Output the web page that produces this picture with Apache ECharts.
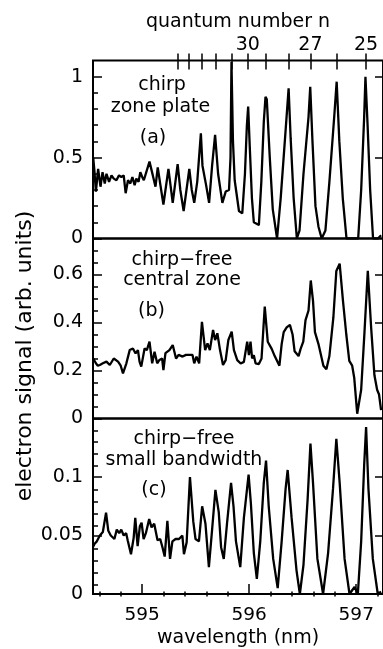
<!DOCTYPE html>
<html><head><meta charset="utf-8">
<script src="https://cdn.jsdelivr.net/npm/echarts@6/dist/echarts.min.js"></script>
<style>html,body{margin:0;padding:0;background:#fff}#c{width:383px;height:649px}</style>
</head><body><div id="c"></div>
<script>
// ---- data ----
const wavelengthA = [594.542,594.553,594.567,594.588,594.610,594.629,594.650,594.666,594.690,594.713,594.734,594.759,594.783,594.805,594.827,594.845,594.867,594.889,594.908,594.929,594.945,594.966,594.982,595.000,595.015,595.038,595.068,595.099,595.124,595.145,595.170,595.198,595.245,595.285,595.331,595.356,595.387,595.440,595.463,595.486,595.514,595.548,595.563,595.579,595.597,595.625,595.653,595.681,595.709,595.749,595.780,595.811,595.825,595.834,595.848,595.864,595.904,595.935,595.960,595.978,595.990,596.006,596.025,596.043,596.090,596.113,596.136,596.152,596.164,596.192,596.220,596.260,596.294,596.340,596.368,596.387,596.415,596.445,596.470,596.507,596.554,596.570,596.591,596.619,596.647,596.677,596.712,596.749,596.795,596.817,596.842,596.874,596.909,596.962,597.018,597.046,597.074,597.086,597.106,597.130,597.157,597.204,597.232];
const signalA = [0.50,0.42,0.29,0.43,0.32,0.41,0.34,0.40,0.35,0.39,0.37,0.36,0.39,0.38,0.39,0.28,0.36,0.34,0.38,0.33,0.37,0.35,0.41,0.38,0.36,0.41,0.475,0.39,0.32,0.44,0.33,0.21,0.43,0.22,0.46,0.30,0.17,0.43,0.30,0.22,0.35,0.65,0.45,0.44,0.33,0.22,0.45,0.64,0.40,0.22,0.29,0.30,0.50,1.09,0.60,0.36,0.17,0.155,0.40,0.70,0.815,0.55,0.25,0.10,0.083,0.35,0.72,0.876,0.86,0.50,0.18,0.0,0.25,0.67,0.928,0.62,0.25,0.0,0.05,0.40,0.75,0.938,0.60,0.20,0.073,0.0,0.05,0.35,0.76,0.969,0.60,0.25,0.0,0.0,0.0,0.30,0.75,1.0,0.70,0.30,0.0,0.0,0.02];

const wavelengthB = [594.542,594.567,594.585,594.604,594.632,594.666,594.697,594.734,594.774,594.799,594.820,594.852,594.883,594.913,594.938,594.960,594.975,594.991,595.022,595.043,595.068,595.093,595.115,595.140,595.161,595.186,595.198,595.217,595.254,595.285,595.316,595.340,595.377,595.409,595.440,595.470,595.486,595.507,595.532,595.558,595.588,595.610,595.632,595.662,595.681,595.702,595.727,595.755,595.780,595.805,595.836,595.857,595.888,595.920,595.950,595.981,595.997,596.012,596.027,596.043,596.059,596.090,596.115,596.145,596.173,596.210,596.238,596.282,596.303,596.322,596.350,596.380,596.405,596.424,596.461,596.480,596.505,596.526,596.554,596.575,596.596,596.614,596.647,596.693,596.721,596.749,596.786,596.814,596.845,596.876,596.907,596.935,596.962,596.981,597.009,597.046,597.077,597.108,597.139,597.170,597.195,597.213,597.232];
const signalB = [0.25,0.23,0.22,0.223,0.23,0.237,0.223,0.25,0.237,0.22,0.188,0.23,0.285,0.292,0.271,0.285,0.237,0.216,0.292,0.285,0.32,0.23,0.278,0.23,0.244,0.25,0.202,0.272,0.285,0.306,0.25,0.265,0.258,0.265,0.265,0.265,0.23,0.258,0.23,0.403,0.285,0.313,0.285,0.369,0.327,0.355,0.285,0.223,0.243,0.327,0.362,0.285,0.243,0.229,0.236,0.32,0.264,0.32,0.25,0.264,0.23,0.227,0.25,0.466,0.32,0.29,0.26,0.22,0.31,0.36,0.38,0.39,0.35,0.28,0.26,0.29,0.32,0.41,0.45,0.575,0.49,0.36,0.31,0.22,0.205,0.26,0.42,0.615,0.645,0.49,0.35,0.24,0.22,0.17,0.02,0.12,0.36,0.615,0.38,0.18,0.12,0.10,0.035];

const wavelengthC = [594.539,594.555,594.576,594.604,594.632,594.662,594.683,594.706,594.740,594.762,594.785,594.804,594.827,594.850,594.864,594.895,594.920,594.935,594.957,594.978,594.994,595.013,595.034,595.065,595.087,595.112,595.143,595.168,595.189,595.210,595.235,595.260,595.282,595.312,595.344,595.375,595.390,595.415,595.446,595.477,595.498,595.530,595.560,595.591,595.623,595.653,595.684,595.715,595.737,595.762,595.792,595.830,595.853,595.876,595.916,595.950,595.994,596.015,596.043,596.071,596.103,596.136,596.157,596.182,596.224,596.266,596.303,596.340,596.359,596.396,596.442,596.473,596.507,596.545,596.572,596.596,596.637,596.690,596.737,596.783,596.814,596.845,596.891,596.937,596.984,597.015,597.046,597.074,597.092,597.114,597.155,597.201,597.232];
const signalC = [0.040,0.043,0.045,0.050,0.053,0.0695,0.054,0.050,0.047,0.055,0.052,0.055,0.050,0.052,0.046,0.034,0.048,0.065,0.041,0.058,0.061,0.047,0.052,0.064,0.057,0.060,0.046,0.047,0.040,0.032,0.0625,0.030,0.045,0.047,0.047,0.050,0.034,0.044,0.100,0.062,0.047,0.045,0.075,0.060,0.023,0.055,0.089,0.070,0.040,0.030,0.060,0.095,0.075,0.045,0.023,0.065,0.102,0.078,0.035,0.013,0.045,0.095,0.114,0.075,0.030,0.005,0.045,0.090,0.106,0.065,0.020,0.0,0.025,0.080,0.1285,0.095,0.030,0.0,0.035,0.09,0.1327,0.095,0.030,0.0,0.006,0.0,0.045,0.110,0.1426,0.090,0.030,0.0,0.002];

// top axis: Rydberg quantum numbers and their wavelength positions
const quantumN = [35,34,33,32,31,30,29,28,27,26,25];
const quantumWavelength = [595.328,595.437,595.560,595.684,595.839,595.987,596.157,596.365,596.572,596.820,597.092];
const quantumLabeled = [30,27,25];

// bottom axis ticks
const xMajorTicks = [595,596,597];
const xMinorTicks = [594.6,594.8,595.2,595.4,595.6,595.8,596.2,596.4,596.6,596.8,597.2];

// y ticks per panel
const yMaxA = 1.1, yMaxB = 0.75, yMaxC = 0.15;
const yMajorA = [0,0.5,1];
const yMinorA = [0.1,0.2,0.3,0.4,0.6,0.7,0.8,0.9];
const yMajorB = [0,0.2,0.4,0.6];
const yMinorB = [0.05,0.1,0.15,0.25,0.3,0.35,0.45,0.5,0.55,0.65,0.7];
const yMajorC = [0,0.05,0.1];
const yMinorC = [0.01,0.02,0.03,0.04,0.06,0.07,0.08,0.09,0.11,0.12,0.13,0.14];

const panelLabels = [
  ['chirp','zone plate','(a)'],
  ['chirp\u2212free','central zone','(b)'],
  ['chirp\u2212free','small bandwidth','(c)']
];

// ---- chart ----
const FONT = 'DejaVu Sans';
const X_MIN = 594.54, X_MAX = 597.25;
const chart = echarts.init(document.getElementById('c'), null, {renderer:'canvas'});

const rects = [
  {left:93, top:60.5, width:292, height:178},
  {left:93, top:238.5, width:292, height:180},
  {left:93, top:418.5, width:292, height:178}
];
// grids 0-2: visible panels; grids 3-5: invisible twins that carry the extra tick sets
const grids = rects.map(r => Object.assign({show:true, borderColor:'#000', borderWidth:2, backgroundColor:'transparent'}, r))
  .concat(rects.map(r => Object.assign({show:false}, r)));

const TICK = {color:'#000', width:1.5};
const NOLINE = {show:false, onZero:false};
const hiddenX = gi => ({type:'value', gridIndex:gi, min:X_MIN, max:X_MAX, show:false, axisLine:NOLINE});

const xAxes = [
  hiddenX(0),                                   // 0 panel a
  hiddenX(1),                                   // 1 panel b
  {type:'value', gridIndex:2, min:X_MIN, max:X_MAX, position:'bottom',   // 2 panel c bottom
   axisLine:NOLINE, splitLine:{show:false},
   axisTick:{inside:true, length:10, customValues:xMajorTicks, lineStyle:TICK},
   axisLabel:{customValues:xMajorTicks, margin:12, color:'#000', fontFamily:FONT, fontSize:18.5},
   name:'wavelength (nm)', nameLocation:'middle', nameGap:35,
   nameTextStyle:{color:'#000', fontFamily:FONT, fontSize:19}},
  {type:'value', gridIndex:0, min:X_MIN, max:X_MAX, position:'top',      // 3 quantum outer ticks + labels
   axisLine:NOLINE, splitLine:{show:false},
   axisTick:{inside:false, length:7, customValues:quantumWavelength, lineStyle:TICK},
   axisLabel:{customValues:quantumLabeled.map(n => quantumWavelength[quantumN.indexOf(n)]), margin:6,
     color:'#000', fontFamily:FONT, fontSize:19,
     formatter: v => { const i = quantumWavelength.findIndex(w => Math.abs(w - v) < 1e-6); return i >= 0 ? String(quantumN[i]) : ''; }},
   name:'quantum number n', nameLocation:'middle', nameGap:29,
   nameTextStyle:{color:'#000', fontFamily:FONT, fontSize:19}},
  {type:'value', gridIndex:3, min:X_MIN, max:X_MAX, position:'top',      // 4 quantum inner ticks
   axisLine:NOLINE, splitLine:{show:false}, axisLabel:{show:false},
   axisTick:{inside:true, length:9, customValues:quantumWavelength, lineStyle:TICK}},
  hiddenX(4),                                   // 5 placeholder
  {type:'value', gridIndex:5, min:X_MIN, max:X_MAX, position:'bottom',   // 6 minor wavelength ticks
   axisLine:NOLINE, splitLine:{show:false}, axisLabel:{show:false},
   axisTick:{inside:true, length:5, customValues:xMinorTicks, lineStyle:TICK}}
];

function yAxesFor(gi, twin, max, majors, minors) {
  return [
    {type:'value', gridIndex:gi, min:0, max:max, position:'left',
     axisLine:NOLINE, splitLine:{show:false},
     axisTick:{inside:true, length:9, customValues:majors, lineStyle:TICK},
     axisLabel:{customValues:majors, margin:10, color:'#000', fontFamily:FONT, fontSize:19}},
    {type:'value', gridIndex:gi, min:0, max:max, position:'right',
     axisLine:NOLINE, splitLine:{show:false}, axisLabel:{show:false},
     axisTick:{inside:true, length:8, customValues:majors.filter(v => v > 0), lineStyle:TICK}},
    {type:'value', gridIndex:twin, min:0, max:max, position:'left',
     axisLine:NOLINE, splitLine:{show:false}, axisLabel:{show:false},
     axisTick:{inside:true, length:5, customValues:minors, lineStyle:TICK}}
  ];
}
const yAxes = [].concat(
  yAxesFor(0, 3, yMaxA, yMajorA, yMinorA),
  yAxesFor(1, 4, yMaxB, yMajorB, yMinorB),
  yAxesFor(2, 5, yMaxC, yMajorC, yMinorC)
);

const pair = (xs, ys) => xs.map((x, i) => [x, ys[i]]);
const lineSeries = (data, xi, yi) => ({
  type:'line', xAxisIndex:xi, yAxisIndex:yi, data:data, showSymbol:false, symbol:'none',
  lineStyle:{color:'#000', width:2.3}, clip:true, animation:false, silent:true
});

const textEl = (txt, x, y, size, rot) => ({
  type:'text', x:x, y:y, rotation:rot || 0,
  style:{text:txt, fill:'#000', fontFamily:FONT, fontSize:size, align:'center', verticalAlign:'middle'}
});

const labelPos = [
  [[162,85.5],[160.5,107],[153,138]],
  [[182,260.5],[182,280.5],[151.5,311.3]],
  [[184,439],[184,460.5],[154,490.5]]
];
const graphics = [];
panelLabels.forEach((lines, p) => lines.forEach((t, k) => graphics.push(textEl(t, labelPos[p][k][0], labelPos[p][k][1], 19))));
graphics.push(textEl('electron signal (arb. units)', 25, 356, 22, Math.PI / 2));

chart.setOption({
  animation:false,
  backgroundColor:'#fff',
  grid:grids,
  xAxis:xAxes,
  yAxis:yAxes,
  series:[
    lineSeries(pair(wavelengthA, signalA), 0, 0),
    lineSeries(pair(wavelengthB, signalB), 1, 3),
    lineSeries(pair(wavelengthC, signalC), 2, 6)
  ],
  graphic:graphics
});
</script>
</body></html>
